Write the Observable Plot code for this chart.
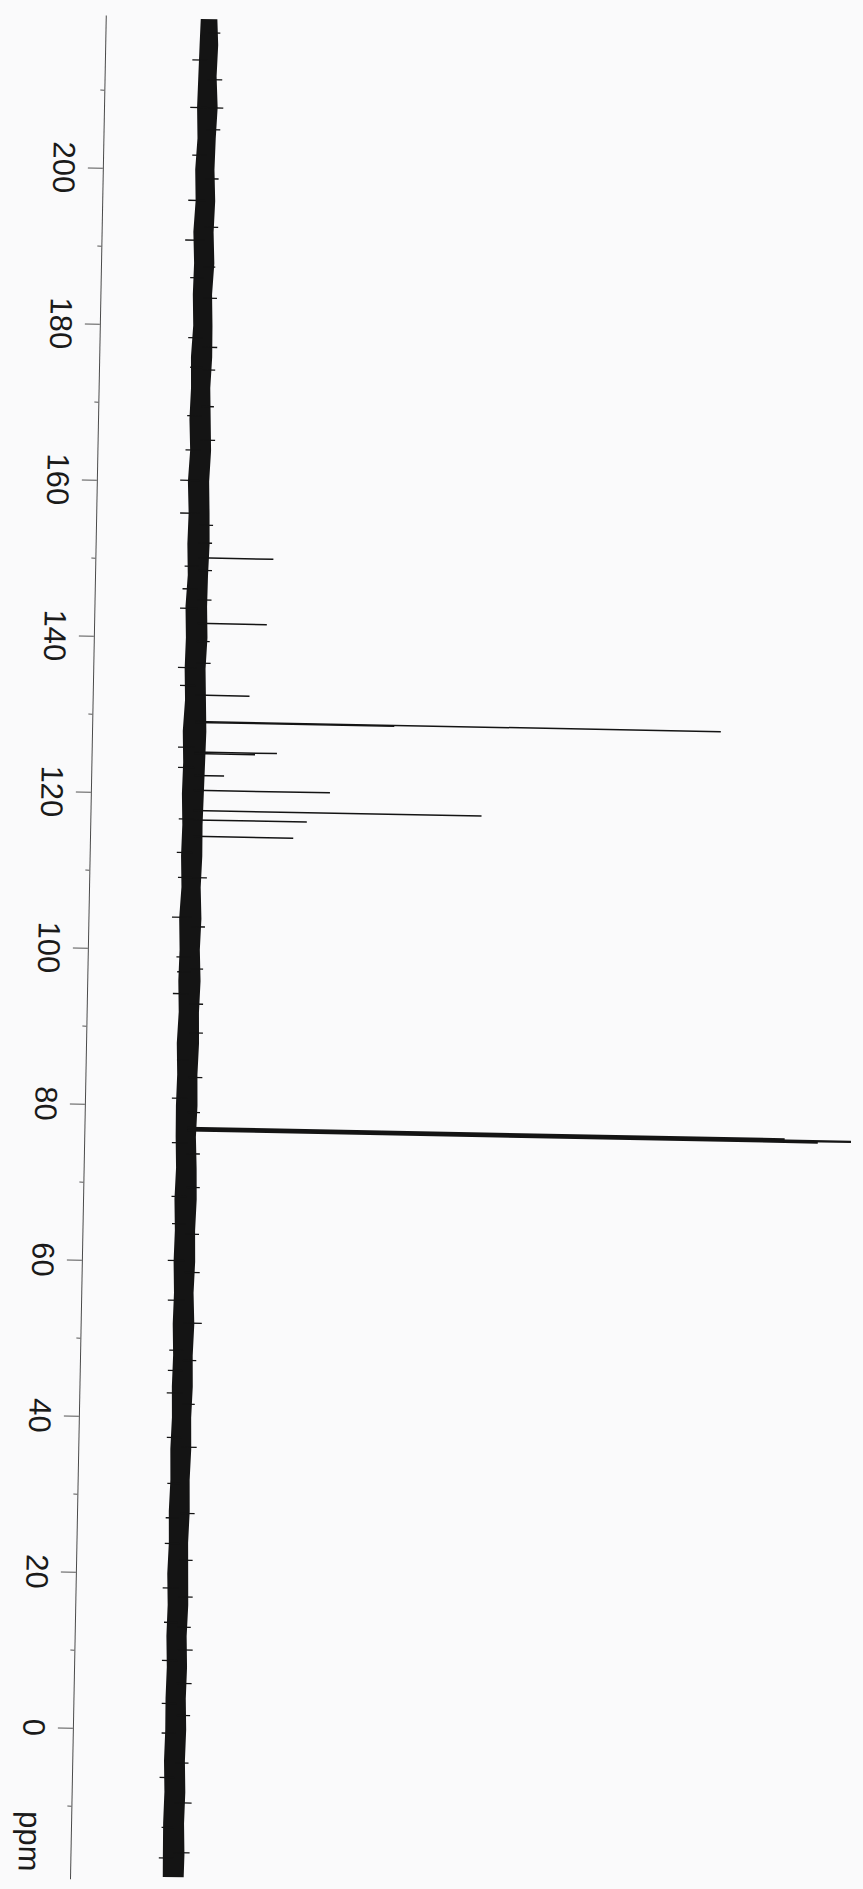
<!DOCTYPE html>
<html><head><meta charset="utf-8">
<script src="https://cdn.jsdelivr.net/npm/d3@7"></script>
<script src="https://cdn.jsdelivr.net/npm/@observablehq/plot@0.6"></script>
<style>
html,body{margin:0;padding:0;background:#fafafb;overflow:hidden}
#chart svg{display:block;transform:rotate(1.1deg);transform-origin:431.5px 944.5px}
</style></head><body><div id="chart"></div>
<script>
// ppm axis tick values
const majorTicks = [0, 20, 40, 60, 80, 100, 120, 140, 160, 180, 200];
const minorTicks = [-10, 10, 30, 50, 70, 90, 110, 130, 150, 170, 190, 210];

// resolved peaks (ppm, intensity relative to solvent = 100)
const peakPpm    = [150.3, 141.9, 132.7, 129.3, 129.2, 125.4, 125.2, 122.4, 120.5, 117.9, 116.7, 114.6];
const peakHeight = [11.3, 10.5, 8.1, 79.2, 30.0, 12.4, 9.1, 4.5, 20.5, 43.4, 17.1, 15.1];

// CDCl3 solvent triplet
const solventPpm    = [77.2, 77.05, 76.9];
const solventHeight = [90, 100, 95];

// noise band envelope
const bandPpm = [219.3,216,212,208,204,200,196,192,188,184,180,176,172,168,164,160,156,152,148,144,140,136,132,128,124,120,116,112,108,104,100,96,92,88,84,80,76,72,68,64,60,56,52,48,44,40,36,32,28,24,20,16,12,8,4,0,-4,-8,-12,-16,-18.9];
const bandLo = [-1.2,-1.3,-1.4,-1.5,-1.35,-1.6,-1.45,-1.7,-1.5,-1.6,-1.45,-1.7,-1.6,-1.75,-1.55,-1.8,-1.6,-1.7,-1.55,-1.8,-1.65,-1.75,-1.6,-1.85,-1.7,-1.8,-1.65,-1.75,-1.6,-1.85,-1.7,-1.8,-1.65,-1.85,-1.7,-1.8,-1.75,-1.6,-1.75,-1.6,-1.7,-1.55,-1.65,-1.5,-1.6,-1.5,-1.65,-1.55,-1.7,-1.6,-1.75,-1.6,-1.7,-1.55,-1.65,-1.6,-1.7,-1.55,-1.65,-1.6,-1.55];
const bandHi = [1.3,1.5,1.35,1.6,1.4,1.3,1.5,1.35,1.55,1.3,1.45,1.5,1.3,1.45,1.6,1.4,1.55,1.65,1.5,1.45,1.6,1.4,1.55,1.7,1.6,1.5,1.4,1.45,1.3,1.5,1.35,1.55,1.4,1.5,1.35,1.45,1.3,1.5,1.6,1.45,1.55,1.4,1.6,1.45,1.55,1.4,1.5,1.35,1.45,1.3,1.4,1.5,1.35,1.5,1.4,1.55,1.45,1.6,1.5,1.65,1.6];

// noise spikes sticking out of the band
const spikePpm = [214.1,208.0,201.9,196.1,191.0,186.2,178.5,174.7,160.2,156.0,143.8,136.2,133.9,126.0,123.4,109.3,104.2,94.4,85.9,81.0,75.3,60.2,55.1,43.2,37.5,23.9,18.2,3.4,-0.4,-6.1,-12.5,
  217.6,211.6,208.0,205.2,192.7,187.6,177.3,174.4,165.4,154.5,152.2,148.7,109.3,103.0,89.4,69.6,58.7,52.2,36.3,27.8,21.8,10.3,6.0,-9.3,-15.7,
  168.5,164.1,149.2,146.3,116.8,112.5,99.1,97.2,68.4,64.9,48.7,46.1,31.6,27.2,13.8,8.9,-16.4,
  198.9,183.6,169.7,144.9,139.6,136.8,97.6,93.1,83.7,79.2,73.9,63.6,47.4,41.8,17.1,13.2,1.9,-4.2];
const spikeValue = [-2.35,-2.53,-2.09,-2.56,-2.91,-2.05,-2.17,-1.79,-2.97,-2.88,-2.62,-2.76,-2.4,-2.52,-2.46,-2.15,-2.94,-2.58,-1.78,-2.43,-2.3,-2.58,-2.46,-2.35,-2.21,-2.21,-2.4,-2.21,-2.14,-2.32,-1.87,
  1.79,2.21,2.45,2.06,2.03,1.70,2.23,1.99,2.18,2.12,2.02,2.09,2.21,2.06,2.06,2.03,2.27,2.73,2.32,2.2,2.03,2.3,2.24,2.58,2.42,
  -2.1,-2.25,-2.05,-2.3,-2.2,-2.4,-2.15,-2.0,-2.2,-2.05,-2.1,-2.25,-2.0,-2.15,-2.1,-2.3,-2.2,
  1.95,2.05,1.9,2.1,1.95,2.15,1.9,2.0,2.1,1.85,1.95,2.05,2.0,1.9,2.15,1.95,2.1,2.0];

const unitLabel = "ppm";
const unitPpm = -14.6;

const band = bandPpm.map((p, i) => ({ppm: p, lo: bandLo[i], hi: bandHi[i]}));
const peaks = peakPpm.map((p, i) => ({ppm: p, h: peakHeight[i]}));
const solvent = solventPpm.map((p, i) => ({ppm: p, h: solventHeight[i]}));
const spikes = spikePpm.map((p, i) => ({ppm: p, v: spikeValue[i]}));

const ink = "#141414";
const chart = Plot.plot({
  width: 863,
  height: 1889,
  marginLeft: 88,
  marginRight: 0,
  marginTop: 22,
  marginBottom: 4,
  style: {background: "transparent", fontFamily: "'Liberation Sans', Arial, sans-serif", overflow: "visible"},
  x: {domain: [-15.52, 101.25], axis: null},
  y: {domain: [-19.3, 219.5], axis: null},
  marks: [
    Plot.frame({anchor: "left", stroke: "#4a4a4a", strokeWidth: 1}),
    Plot.axisY(minorTicks, {anchor: "left", label: null, tickSize: 4, tickFormat: () => "", stroke: "#555"}),
    Plot.axisY(majorTicks, {anchor: "left", label: null, tickSize: 15, tickRotate: 90, tickPadding: 13, fontSize: 31, stroke: "#555", fill: "#1a1a1a", tickFormat: d => String(d)}),
    Plot.text([unitLabel], {y: () => unitPpm, text: d => d, frameAnchor: "left", dx: -30, rotate: 90, lineAnchor: "top", textAnchor: "middle", fontSize: 31, fill: "#1a1a1a"}),
    Plot.areaX(band, {y: "ppm", x1: "lo", x2: "hi", fill: ink}),
    Plot.ruleY(spikes, {y: "ppm", x1: 0, x2: "v", stroke: ink, strokeWidth: 1.3}),
    Plot.ruleY(peaks, {y: "ppm", x1: 0, x2: "h", stroke: ink, strokeWidth: 1.5}),
    Plot.ruleY(solvent, {y: "ppm", x1: 0, x2: "h", stroke: ink, strokeWidth: 2.4})
  ]
});
document.getElementById("chart").appendChild(chart);
</script>
</body></html>
